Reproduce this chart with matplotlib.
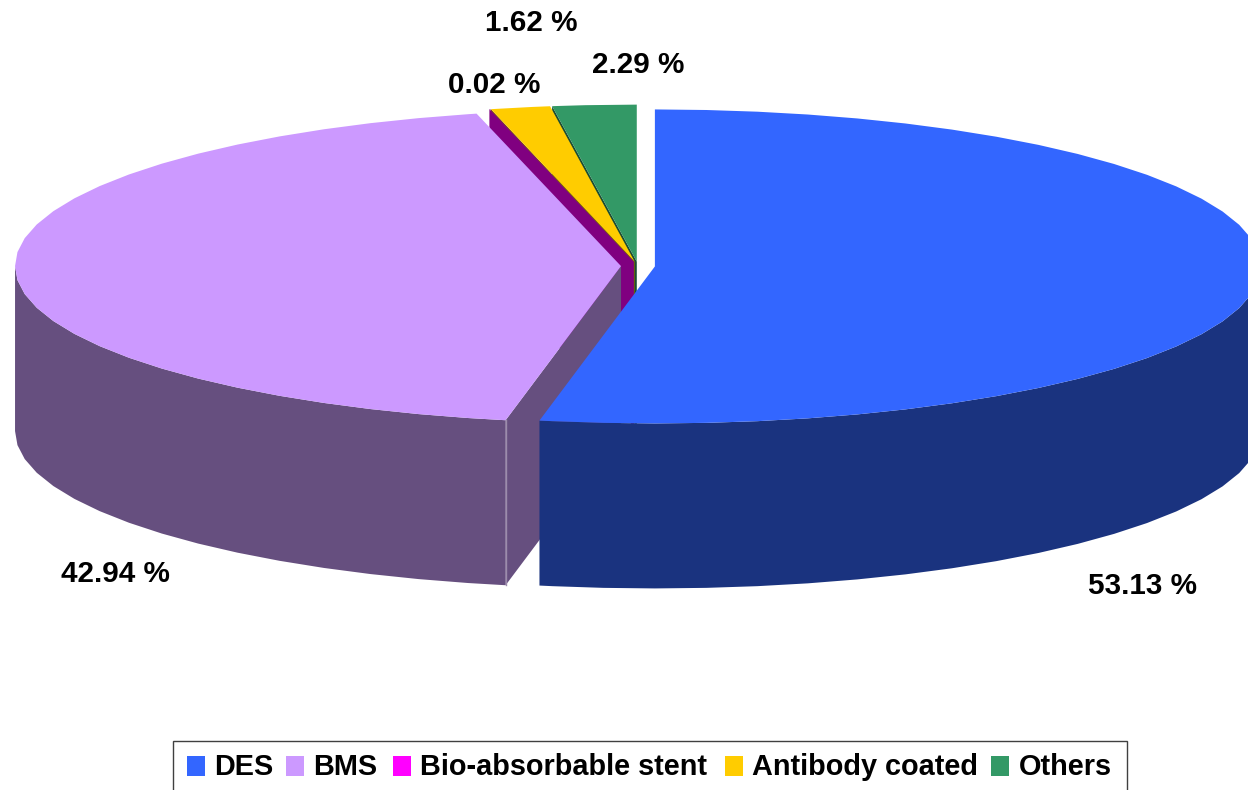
import numpy as np
import matplotlib
matplotlib.use("Agg")
import matplotlib.pyplot as plt
from matplotlib.patches import Rectangle

categories = ["DES", "BMS", "Bio-absorbable stent", "Antibody coated", "Others"]
shares = [53.13, 42.94, 0.02, 1.62, 2.29]
value_labels = ["53.13 %", "42.94 %", "0.02 %", "1.62 %", "2.29 %"]
top_colors = ["#3366FF", "#CC99FF", "#800080", "#FFCC00", "#339966"]
side_colors = ["#1A337F", "#664F7F", "#800080", "#7F6600", "#1A4D33"]
legend_colors = ["#3366FF", "#CC99FF", "#FF00FF", "#FFCC00", "#339966"]

# Pie geometry in figure pixels
CX, CY = 638.0, 266.0
RX, RY = 606.0, 157.0
DEPTH = 165.0
EXPLODE = 0.028
STEP = 5.0
SKEW = 0.75  # small angular correction for the tilted view, in degrees

plt.rcParams["font.family"] = ["Liberation Sans", "DejaVu Sans"]

fig = plt.figure(figsize=(12.48, 7.9), dpi=100)
ax = fig.add_axes([0, 0, 1, 1])
ax.set_xlim(0, 1248)
ax.set_ylim(790, 0)
ax.axis("off")


def rim(angles, ox, oy):
    a = np.radians(angles)
    a = a - np.radians(SKEW) * np.sin(2 * a)
    return ox + RX * np.sin(a), oy - RY * np.cos(a)


def arc_angles(start, stop):
    inner = np.arange(np.ceil(start / STEP) * STEP, stop, STEP)
    return np.concatenate([[start], inner, [stop]])


edges = np.cumsum([0.0] + shares) / sum(shares) * 360.0
slices = []
for i in range(len(shares)):
    mid = np.radians((edges[i] + edges[i + 1]) / 2)
    ox = CX + EXPLODE * RX * np.sin(mid)
    oy = CY - EXPLODE * RY * np.cos(mid)
    slices.append((i, edges[i], edges[i + 1], ox, oy))

# Back slices first, so that the nearer ones cover them
for i, start, stop, ox, oy in [slices[k] for k in (4, 3, 2, 1, 0)]:
    # radial wall on the leading edge of the slice
    ex, ey = rim([start], ox, oy)
    if i != 0:
        ax.fill([ox, ex[0], ex[0], ox], [oy, ey[0], ey[0] + DEPTH, oy + DEPTH],
                color=side_colors[i], lw=0)
    # outer wall for the part of the rim that faces the viewer
    lo, hi = max(start, 90.0), min(stop, 270.0)
    if lo < hi:
        wx, wy = rim(arc_angles(lo, hi), ox, oy)
        ax.fill(np.r_[wx, wx[::-1]], np.r_[wy, wy[::-1] + DEPTH],
                color=side_colors[i], lw=0)
    if i == 1:
        ax.plot([ex[0], ex[0]], [ey[0], ey[0] + DEPTH], color="#9C8CAC", lw=1)
    # top face
    tx, ty = rim(arc_angles(start, stop), ox, oy)
    ax.fill(np.r_[ox, tx], np.r_[oy, ty], color=top_colors[i], lw=0)

# Percentage labels
label_xy = [(1143, 586), (115, 574), (494, 85), (531, 23), (638, 65)]
for text, (x, y) in zip(value_labels, label_xy):
    ax.text(x, y, text, ha="center", va="center", fontsize=21.3, fontweight="bold", color="black")

# Legend strip along the bottom edge
ax.add_patch(Rectangle((173, 741), 954, 60, fc="white", ec="#404040", lw=1, clip_on=True))
swatch_x = [187, 286, 393, 725, 991]
text_x = [214, 313, 420, 752, 1019]
for name, color, sx, tx in zip(categories, legend_colors, swatch_x, text_x):
    ax.add_patch(Rectangle((sx, 756), 18, 20, fc=color, ec="none"))
    ax.text(tx, 767, name, ha="left", va="center", fontsize=20.8, fontweight="bold", color="black")

fig.savefig("out.png", dpi=100)
